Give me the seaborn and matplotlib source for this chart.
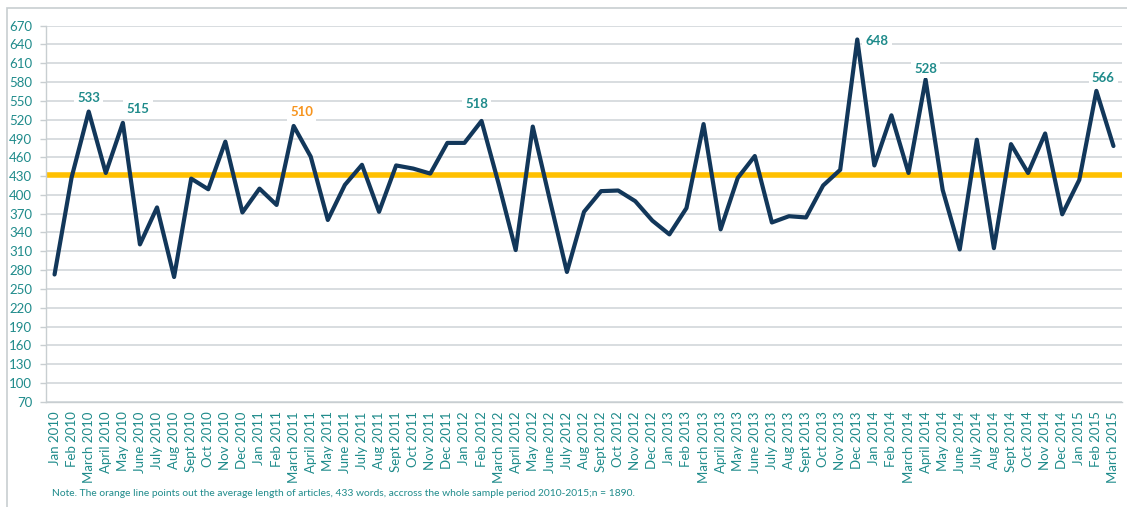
import matplotlib
matplotlib.use("Agg")
import matplotlib.pyplot as plt
import numpy as np
import pandas as pd
import seaborn as sns

MONTHS = ["Jan", "Feb", "March", "April", "May", "June", "July", "Aug",
          "Sept", "Oct", "Nov", "Dec"]
periods = [f"{m} {y}" for y in range(2010, 2016) for m in MONTHS][:63]

words = [273, 428, 533, 435, 515, 321, 380, 269, 426, 409, 485, 372,
         410, 384, 510, 461, 360, 416, 448, 373, 447, 442, 434, 483,
         483, 518, 418, 312, 509, 392, 277, 373, 406, 407, 390, 359,
         337, 379, 513, 345, 427, 462, 356, 366, 364, 415, 440, 648,
         447, 527, 435, 584, 408, 313, 488, 315, 481, 435, 498, 369,
         424, 566, 478]
AVERAGE = 431

# data labels as printed in the source (month, text)
label_months = ["March 2010", "May 2010", "March 2011", "Feb 2012",
                "Dec 2013", "April 2014", "Feb 2015"]
label_texts = ["533", "515", "510", "518", "648", "528", "566"]
# label centre offset from its point, in pixels (right, up)
label_offsets = [(0, 14), (15, 14), (8, 14), (-5, 17), (20, -2), (0, 11), (7, 13)]

TEAL = "#1f8b8b"
NAVY = "#12375a"
GOLD = "#ffc000"

df = pd.DataFrame({"idx": np.arange(len(periods)), "period": periods, "words": words})

sns.set_theme(style="white")
plt.rcParams["font.family"] = ["Lato", "DejaVu Sans"]

fig = plt.figure(figsize=(11.27, 5.07), dpi=100)
ax = fig.add_axes([46 / 1127, 1 - 401.7 / 507, (1122 - 46) / 1127, (401.7 - 25.7) / 507])

# outer chart frame (cut off at right and bottom)
fig.patches.append(plt.Rectangle((7 / 1127, -0.1), 1.2, 1 - 8 / 507 + 0.1,
                                 transform=fig.transFigure, fill=False,
                                 edgecolor="#c8ced1", lw=1.2))

ax.set_yticks(np.arange(70, 671, 30))
ax.grid(axis="y", color="#d5dadd", lw=1.3)
ax.set_axisbelow(True)

ax.axhline(AVERAGE, color=GOLD, lw=4, zorder=2)
sns.lineplot(data=df, x="idx", y="words", ax=ax, color=NAVY, lw=3, zorder=3)

ax.set_xlim(-0.5, len(periods) - 0.5)
ax.set_ylim(70, 670)
ax.set_xticks(df["idx"])
ax.set_xticklabels(periods, rotation=90)
ax.set_xticks(np.arange(-0.5, len(periods), 1), minor=True)
ax.tick_params(axis="x", which="major", length=0, pad=7, labelsize=9.5, labelcolor=TEAL)
ax.tick_params(axis="x", which="minor", length=4, color="#c8ced1", width=1)
ax.tick_params(axis="y", length=4, color="#c8ced1", width=1, labelsize=9.5,
               labelcolor=TEAL, left=True, pad=6)
ax.set_xlabel("")
ax.set_ylabel("")
for s in ["top", "right"]:
    ax.spines[s].set_visible(False)
for s in ["left", "bottom"]:
    ax.spines[s].set_color("#c8ced1")
    ax.spines[s].set_linewidth(1)

for m, t, (dx, dy) in zip(label_months, label_texts, label_offsets):
    i = periods.index(m)
    ax.annotate(t, (i, words[i]), xytext=(dx * 0.72, dy * 0.72), textcoords="offset points",
                ha="center", va="center", fontsize=9.5, fontweight="bold",
                color="#f7941d" if m == "March 2011" else TEAL,
                bbox=dict(boxstyle="square,pad=0.25", fc="white", ec="none"),
                zorder=4)

fig.text(52 / 1127, 1 - 493 / 507,
         "Note. The orange line points out the average length of articles, 433 words, "
         "accross the whole sample period 2010-2015;n = 1890.",
         fontsize=7.4, color=TEAL, va="center")

fig.savefig("out.png", dpi=100, facecolor="white")
